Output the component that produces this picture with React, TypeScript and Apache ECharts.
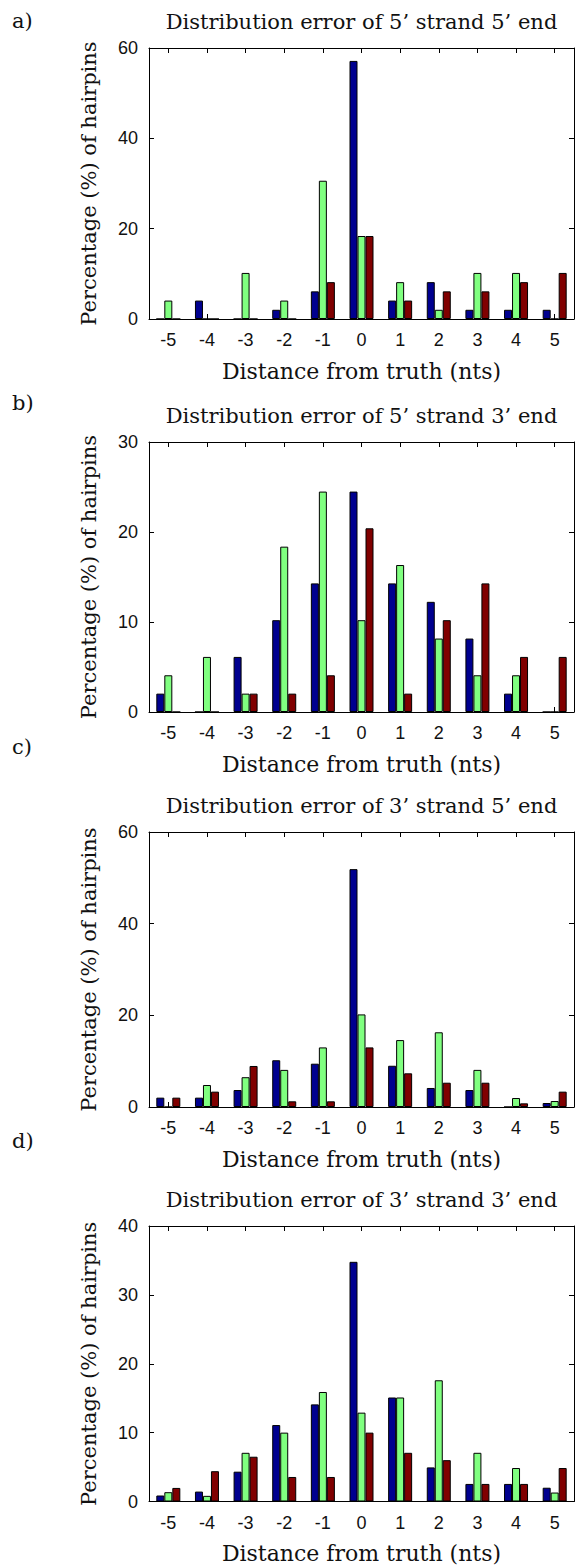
import React, { useEffect, useRef } from "react";
import * as echarts from "echarts";

const categories = ["-5", "-4", "-3", "-2", "-1", "0", "1", "2", "3", "4", "5"];

const panelTitles = [
  "Distribution error of 5\u2019 strand 5\u2019 end",
  "Distribution error of 5\u2019 strand 3\u2019 end",
  "Distribution error of 3\u2019 strand 5\u2019 end",
  "Distribution error of 3\u2019 strand 3\u2019 end",
];
const panelLetters = ["a)", "b)", "c)", "d)"];
const xAxisName = "Distance from truth (nts)";
const yAxisName = "Percentage (%) of hairpins";
const yMaxes = [60, 30, 60, 40];
const yIntervals = [20, 10, 20, 10];

// Panel a) 5' strand 5' end
const aBlue = [0, 4.08, 0, 2.04, 6.12, 57.14, 4.08, 8.16, 2.04, 2.04, 2.04];
const aGreen = [4.08, 0, 10.2, 4.08, 30.61, 18.37, 8.16, 2.04, 10.2, 10.2, 0];
const aRed = [0, 0, 0, 0, 8.16, 18.37, 4.08, 6.12, 6.12, 8.16, 10.2];

// Panel b) 5' strand 3' end
const bBlue = [2.04, 0, 6.12, 10.2, 14.29, 24.49, 14.29, 12.24, 8.16, 2.04, 0];
const bGreen = [4.08, 6.12, 2.04, 18.37, 24.49, 10.2, 16.33, 8.16, 4.08, 4.08, 0];
const bRed = [0, 0, 2.04, 2.04, 4.08, 20.41, 2.04, 10.2, 14.29, 6.12, 6.12];

// Panel c) 3' strand 5' end
const cBlue = [2.04, 2.04, 3.7, 10.2, 9.45, 51.9, 9.0, 4.15, 3.7, 0, 0.87];
const cGreen = [0, 4.8, 6.5, 8.1, 13.0, 20.2, 14.6, 16.3, 8.1, 1.96, 1.3];
const cRed = [2.04, 3.35, 8.95, 1.24, 1.24, 13.0, 7.35, 5.3, 5.3, 0.8, 3.35];

// Panel d) 3' strand 3' end
const dBlue = [0.87, 1.44, 4.33, 11.1, 14.1, 34.8, 15.1, 4.95, 2.55, 2.55, 2.0];
const dGreen = [1.35, 0.82, 7.07, 10.0, 15.9, 12.9, 15.1, 17.6, 7.07, 4.86, 1.3];
const dRed = [1.97, 4.4, 6.5, 3.56, 3.56, 10.0, 7.07, 6.0, 2.55, 2.55, 4.86];

const panelSeries = [
  [aBlue, aGreen, aRed],
  [bBlue, bGreen, bRed],
  [cBlue, cGreen, cRed],
  [dBlue, dGreen, dRed],
];

const seriesColors = ["#00008F", "#80FF80", "#800000"];

// layout (pixels)
const W = 576;
const H = 1566;
const gridLeft = 149;
const gridWidth = 425;
const gridTops = [48, 442, 832, 1226];
const gridHeights = [271, 270, 275, 275.5];
const letterYs = [21, 403, 747, 1141];

const serif = "'DejaVu Serif', 'Liberation Serif', serif";
const sans = "'Liberation Sans', Arial, sans-serif";
const textColor = "#111";

function buildOption() {
  const grid: any[] = [];
  const xAxis: any[] = [];
  const yAxis: any[] = [];
  const series: any[] = [];
  const graphic: any[] = [];

  for (let i = 0; i < 4; i++) {
    const top = gridTops[i];
    const h = gridHeights[i];
    grid.push({ left: gridLeft, top, width: gridWidth, height: h, containLabel: false });

    const lineStyle = { color: "#000", width: 1 };
    xAxis.push({
      type: "category",
      gridIndex: i,
      data: categories,
      position: "bottom",
      boundaryGap: true,
      axisLine: { show: true, onZero: false, lineStyle },
      axisTick: { show: true, inside: true, length: 5, alignWithLabel: true, interval: 0, lineStyle },
      axisLabel: { show: true, interval: 0, margin: 12, fontFamily: sans, fontSize: 18, color: textColor },
      splitLine: { show: false },
    });
    xAxis.push({
      type: "category",
      gridIndex: i,
      data: categories,
      position: "top",
      boundaryGap: true,
      axisLine: { show: true, onZero: false, lineStyle },
      axisTick: { show: true, inside: true, length: 5, alignWithLabel: true, interval: 0, lineStyle },
      axisLabel: { show: false },
      splitLine: { show: false },
    });
    yAxis.push({
      type: "value",
      gridIndex: i,
      min: 0,
      max: yMaxes[i],
      interval: yIntervals[i],
      position: "left",
      axisLine: { show: true, onZero: false, lineStyle },
      axisTick: { show: true, inside: true, length: 5, lineStyle },
      axisLabel: { show: true, margin: 11, fontFamily: sans, fontSize: 18, color: textColor },
      splitLine: { show: false },
    });
    yAxis.push({
      type: "value",
      gridIndex: i,
      min: 0,
      max: yMaxes[i],
      interval: yIntervals[i],
      position: "right",
      axisLine: { show: true, onZero: false, lineStyle },
      axisTick: { show: true, inside: true, length: 5, lineStyle },
      axisLabel: { show: false },
      splitLine: { show: false },
    });

    panelSeries[i].forEach((vals, k) => {
      series.push({
        type: "bar",
        xAxisIndex: 2 * i,
        yAxisIndex: 2 * i,
        data: vals,
        barWidth: 8,
        barGap: "0%",
        itemStyle: { color: seriesColors[k], borderColor: "#000", borderWidth: 1 },
        silent: true,
      });
    });

    const cx = gridLeft + gridWidth / 2;
    graphic.push({
      type: "text",
      x: cx,
      y: top - 26,
      style: {
        text: panelTitles[i],
        fontFamily: serif,
        fontSize: 21,
        fill: textColor,
        textAlign: "center",
        textVerticalAlign: "middle",
      },
    });
    graphic.push({
      type: "text",
      x: 12,
      y: letterYs[i],
      style: {
        text: panelLetters[i],
        fontFamily: serif,
        fontSize: 21,
        fill: textColor,
        textAlign: "left",
        textVerticalAlign: "middle",
      },
    });
    graphic.push({
      type: "text",
      x: cx,
      y: top + h + 52,
      style: {
        text: xAxisName,
        fontFamily: serif,
        fontSize: 22,
        fill: textColor,
        textAlign: "center",
        textVerticalAlign: "middle",
      },
    });
    graphic.push({
      type: "text",
      x: 89,
      y: top + h / 2,
      rotation: Math.PI / 2,
      style: {
        text: yAxisName,
        fontFamily: serif,
        fontSize: 21,
        fill: textColor,
        textAlign: "center",
        textVerticalAlign: "middle",
      },
    });
  }

  return {
    animation: false,
    backgroundColor: "#fff",
    grid,
    xAxis,
    yAxis,
    series,
    graphic,
  };
}

export default function App() {
  const ref = useRef<HTMLDivElement>(null);
  useEffect(() => {
    if (!ref.current) return;
    const chart = echarts.init(ref.current, undefined, { renderer: "svg" });
    chart.setOption(buildOption() as any);
    return () => chart.dispose();
  }, []);
  return (
    <div
      ref={ref}
      style={{ position: "absolute", left: 0, top: 0, width: W, height: H, background: "#fff" }}
    />
  );
}
